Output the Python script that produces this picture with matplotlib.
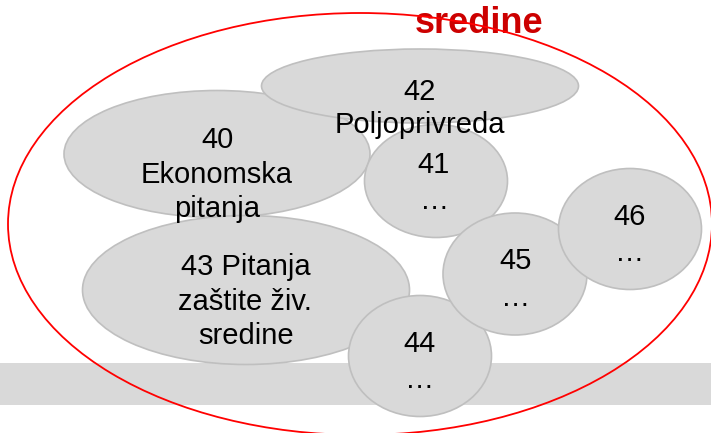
import matplotlib
matplotlib.use("Agg")
import matplotlib.pyplot as plt
from matplotlib.patches import Ellipse, Rectangle

plt.rcParams['font.family'] = ['Liberation Sans', 'DejaVu Sans']

# Bubble data: label lines, centre (px), size (px)
bubble_ids = ["40", "43", "41", "42", "44", "45", "46"]
bubble_centers = [(217, 154), (246, 290), (436, 181), (420, 86), (420, 356), (515, 274), (630, 229)]
bubble_sizes = [(306, 127), (327, 149), (143, 113), (317, 74), (143, 121), (144, 122), (143, 121)]

# Text lines: (text, x, baseline y)
text_lines = [
    ("40", 218, 148), ("Ekonomska", 217, 183), ("pitanja", 217, 217),
    ("42", 420, 100), ("Poljoprivreda", 420, 133),
    ("41", 434, 173), ("…", 435, 209),
    ("43 Pitanja", 246, 275), ("zaštite živ.", 245, 310), ("sredine", 246, 344),
    ("44", 420, 352), ("…", 420, 388),
    ("45", 516, 269), ("…", 516, 306),
    ("46", 630, 225), ("…", 630, 261),
]

title_text = "sredine"

W, H = 711, 433
fig = plt.figure(figsize=(W / 100, H / 100), dpi=100)
ax = fig.add_axes([0, 0, 1, 1])
ax.set_xlim(0, W)
ax.set_ylim(H, 0)
ax.axis('off')

# grey band
ax.add_patch(Rectangle((0, 363), W, 42, facecolor='#d9d9d9', edgecolor='none', zorder=0))

for (cx, cy), (w, h) in zip(bubble_centers, bubble_sizes):
    ax.add_patch(Ellipse((cx, cy), w, h, facecolor='#d9d9d9', edgecolor='#bfbfbf',
                         linewidth=1.2, zorder=2))

for t, x, y in text_lines:
    ax.text(x, y, t, ha='center', va='baseline', fontsize=21, color='black', zorder=5)

ax.text(479, 33, title_text, ha='center', va='baseline', fontsize=26,
        fontweight='bold', color='#cc0000', zorder=4)

# big red ellipse
ax.add_patch(Ellipse((360, 224), 704, 422, facecolor='none', edgecolor='#ff0000',
                     linewidth=1.3, zorder=4.5))

fig.savefig("out.png", dpi=100)
